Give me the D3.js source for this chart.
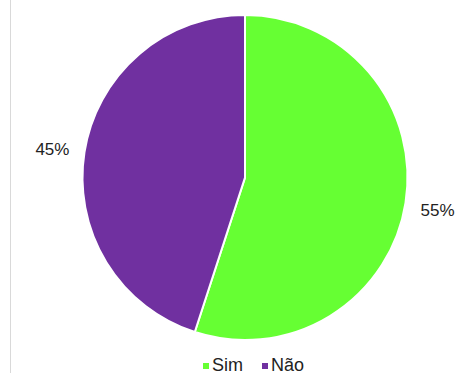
<!DOCTYPE html>
<html lang="pt">
<head>
  <meta charset="UTF-8">
  <title>Sim / Não</title>
  <script src="https://d3js.org/d3.v7.min.js"></script>
  <style>
    * { margin: 0; padding: 0; box-sizing: border-box; }
    body { font-family: Arial, "Liberation Sans", sans-serif; background: #fff; }
    .label { font-size: 17px; fill: #222; }
    .legend text { font-size: 18px; fill: #222; }
  </style>
</head>
<body>
  <div id="chart"></div>
  <script>
    const categories = ["Sim", "Não"];
    const values = [55, 45];
    const colors = ["#66ff33", "#7030a0"];

    const W = 455, H = 373;
    const cx = 245, cy = 177.5, radius = 162.5, labelR = 195;

    const svg = d3.select("#chart")
      .append("svg")
      .attr("width", W)
      .attr("height", H);

    // thin border on the left
    svg.append("line")
      .attr("x1", 10.5).attr("x2", 10.5)
      .attr("y1", 0).attr("y2", H)
      .attr("stroke", "#d9d9d9")
      .attr("stroke-width", 1);

    const data = categories.map((c, i) => ({ cat: c, value: values[i] }));
    const color = d3.scaleOrdinal().domain(categories).range(colors);

    const pie = d3.pie().value(d => d.value).sort(null);
    const arc = d3.arc().innerRadius(0).outerRadius(radius);
    const labelArc = d3.arc().innerRadius(labelR).outerRadius(labelR);

    const g = svg.append("g").attr("transform", `translate(${cx},${cy})`);

    const arcs = pie(data);
    g.selectAll("path")
      .data(arcs)
      .enter()
      .append("path")
      .attr("d", arc)
      .attr("fill", d => color(d.data.cat))
      .attr("stroke", "#fff")
      .attr("stroke-width", 2);

    const total = d3.sum(values);
    g.selectAll(".label")
      .data(arcs)
      .enter()
      .append("text")
      .attr("class", "label")
      .attr("transform", d => `translate(${labelArc.centroid(d)})`)
      .attr("text-anchor", "middle")
      .attr("dy", "0.45em")
      .text(d => Math.round(d.data.value / total * 100) + "%");

    // legend (cut off at the bottom edge, as in the original)
    const legend = svg.append("g").attr("class", "legend")
      .attr("transform", "translate(203,371)");
    const offsets = [0, 59];
    categories.forEach((c, i) => {
      const item = legend.append("g").attr("transform", `translate(${offsets[i]},0)`);
      item.append("rect")
        .attr("x", 0).attr("y", -8)
        .attr("width", 6).attr("height", 6)
        .attr("fill", color(c));
      item.append("text")
        .attr("x", 9).attr("y", 0)
        .text(c);
    });
  </script>
</body>
</html>
